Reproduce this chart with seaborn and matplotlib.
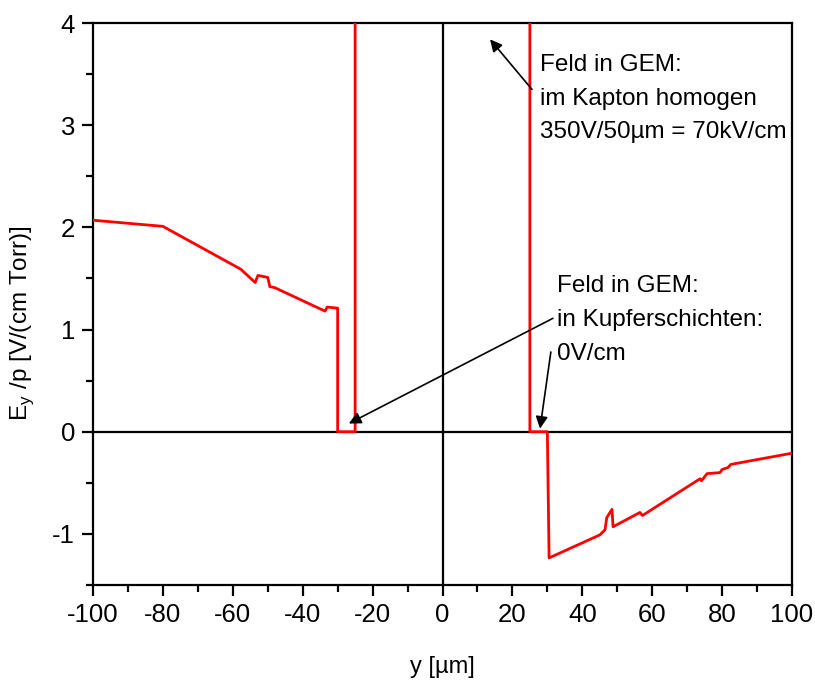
import matplotlib
matplotlib.use("Agg")
import matplotlib.pyplot as plt
from matplotlib.ticker import MultipleLocator
import seaborn as sns
import pandas as pd

# Position across the GEM (µm) and reduced field E_y/p (V/(cm Torr))
y_pos = [-100, -80, -57.7, -53.6, -52.8, -50.0, -49.4, -48.0, -33.6, -33.0, -30.2,
         -30.0, -30.0, -25.0, -25.0, 25.0, 25.0, 30.0, 30.5, 45.0, 46.5, 47.0,
         48.5, 48.8, 56.5, 57.2, 73.7, 74.1, 75.7, 79.4, 80.0, 81.7, 82.5, 100]
e_over_p = [2.07, 2.01, 1.59, 1.46, 1.53, 1.51, 1.42, 1.41, 1.18, 1.22, 1.21,
            1.21, 0.0, 0.0, 92.1, 92.1, 0.0, 0.0, -1.235, -1.01, -0.96, -0.84,
            -0.76, -0.93, -0.79, -0.82, -0.46, -0.48, -0.41, -0.40, -0.37, -0.35, -0.32, -0.21]

x_ticks = [-100, -80, -60, -40, -20, 0, 20, 40, 60, 80, 100]
y_ticks = [-1, 0, 1, 2, 3, 4]

note_kapton = "Feld in GEM:\nim Kapton homogen\n350V/50µm = 70kV/cm"
note_copper = "Feld in GEM:\nin Kupferschichten:\n0V/cm"

df = pd.DataFrame({"y": y_pos, "E": e_over_p})

sns.set_theme(style="white")
plt.rcParams["font.family"] = ["Liberation Sans", "DejaVu Sans"]
plt.rcParams["text.color"] = "black"
plt.rcParams["axes.labelcolor"] = "black"

fig = plt.figure(figsize=(8.15, 6.8), dpi=100)
ax = fig.add_axes([93 / 815, 1 - 585 / 680, (792 - 93) / 815, (585 - 23) / 680])

ax.axhline(0, color="black", lw=1.6, zorder=1)
ax.axvline(0, color="black", lw=1.6, zorder=1)

sns.lineplot(data=df, x="y", y="E", sort=False, estimator=None,
             color="#ff0000", lw=2.0, ax=ax, zorder=3)

ax.set_xlim(-100, 100)
ax.set_ylim(-1.5, 4)
ax.set_xticks(x_ticks)
ax.set_yticks(y_ticks)
ax.set_xticklabels([str(v) for v in x_ticks])
ax.set_yticklabels([str(v) for v in y_ticks])
ax.xaxis.set_minor_locator(MultipleLocator(10))
ax.yaxis.set_minor_locator(MultipleLocator(0.5))

for side in ["left", "right", "top", "bottom"]:
    ax.spines[side].set_visible(True)
    ax.spines[side].set_color("black")
    ax.spines[side].set_linewidth(1.6)

ax.tick_params(axis="both", which="major", direction="out", length=8, width=1.6,
               labelsize=18.5, color="black", labelcolor="black",
               bottom=True, left=True, top=False, right=False, pad=5)
ax.tick_params(axis="both", which="minor", direction="out", length=5, width=1.6,
               color="black", bottom=True, left=True, top=False, right=False)

ax.set_xlabel("y [µm]", fontsize=17, labelpad=21)
ax.set_ylabel("E$_\\mathregular{y}$ /p [V/(cm Torr)]", fontsize=17.5)
ax.yaxis.set_label_coords(-0.082, 0.466)

arrow = dict(arrowstyle="-|>", color="black", lw=1.2, mutation_scale=18,
             shrinkA=0, shrinkB=0)

ax.text(27.8, 3.70, note_kapton, fontsize=17.5, va="top", ha="left", linespacing=1.7)
ax.annotate("", xy=(13.6, 3.84), xytext=(25.6, 3.35), arrowprops=arrow)

ax.text(32.8, 1.53, note_copper, fontsize=17.5, va="top", ha="left", linespacing=1.7)
ax.annotate("", xy=(-26.8, 0.08), xytext=(31.6, 1.11), arrowprops=arrow)
ax.annotate("", xy=(27.9, 0.03), xytext=(31.0, 0.78), arrowprops=arrow)

fig.savefig("out.png", dpi=100)
